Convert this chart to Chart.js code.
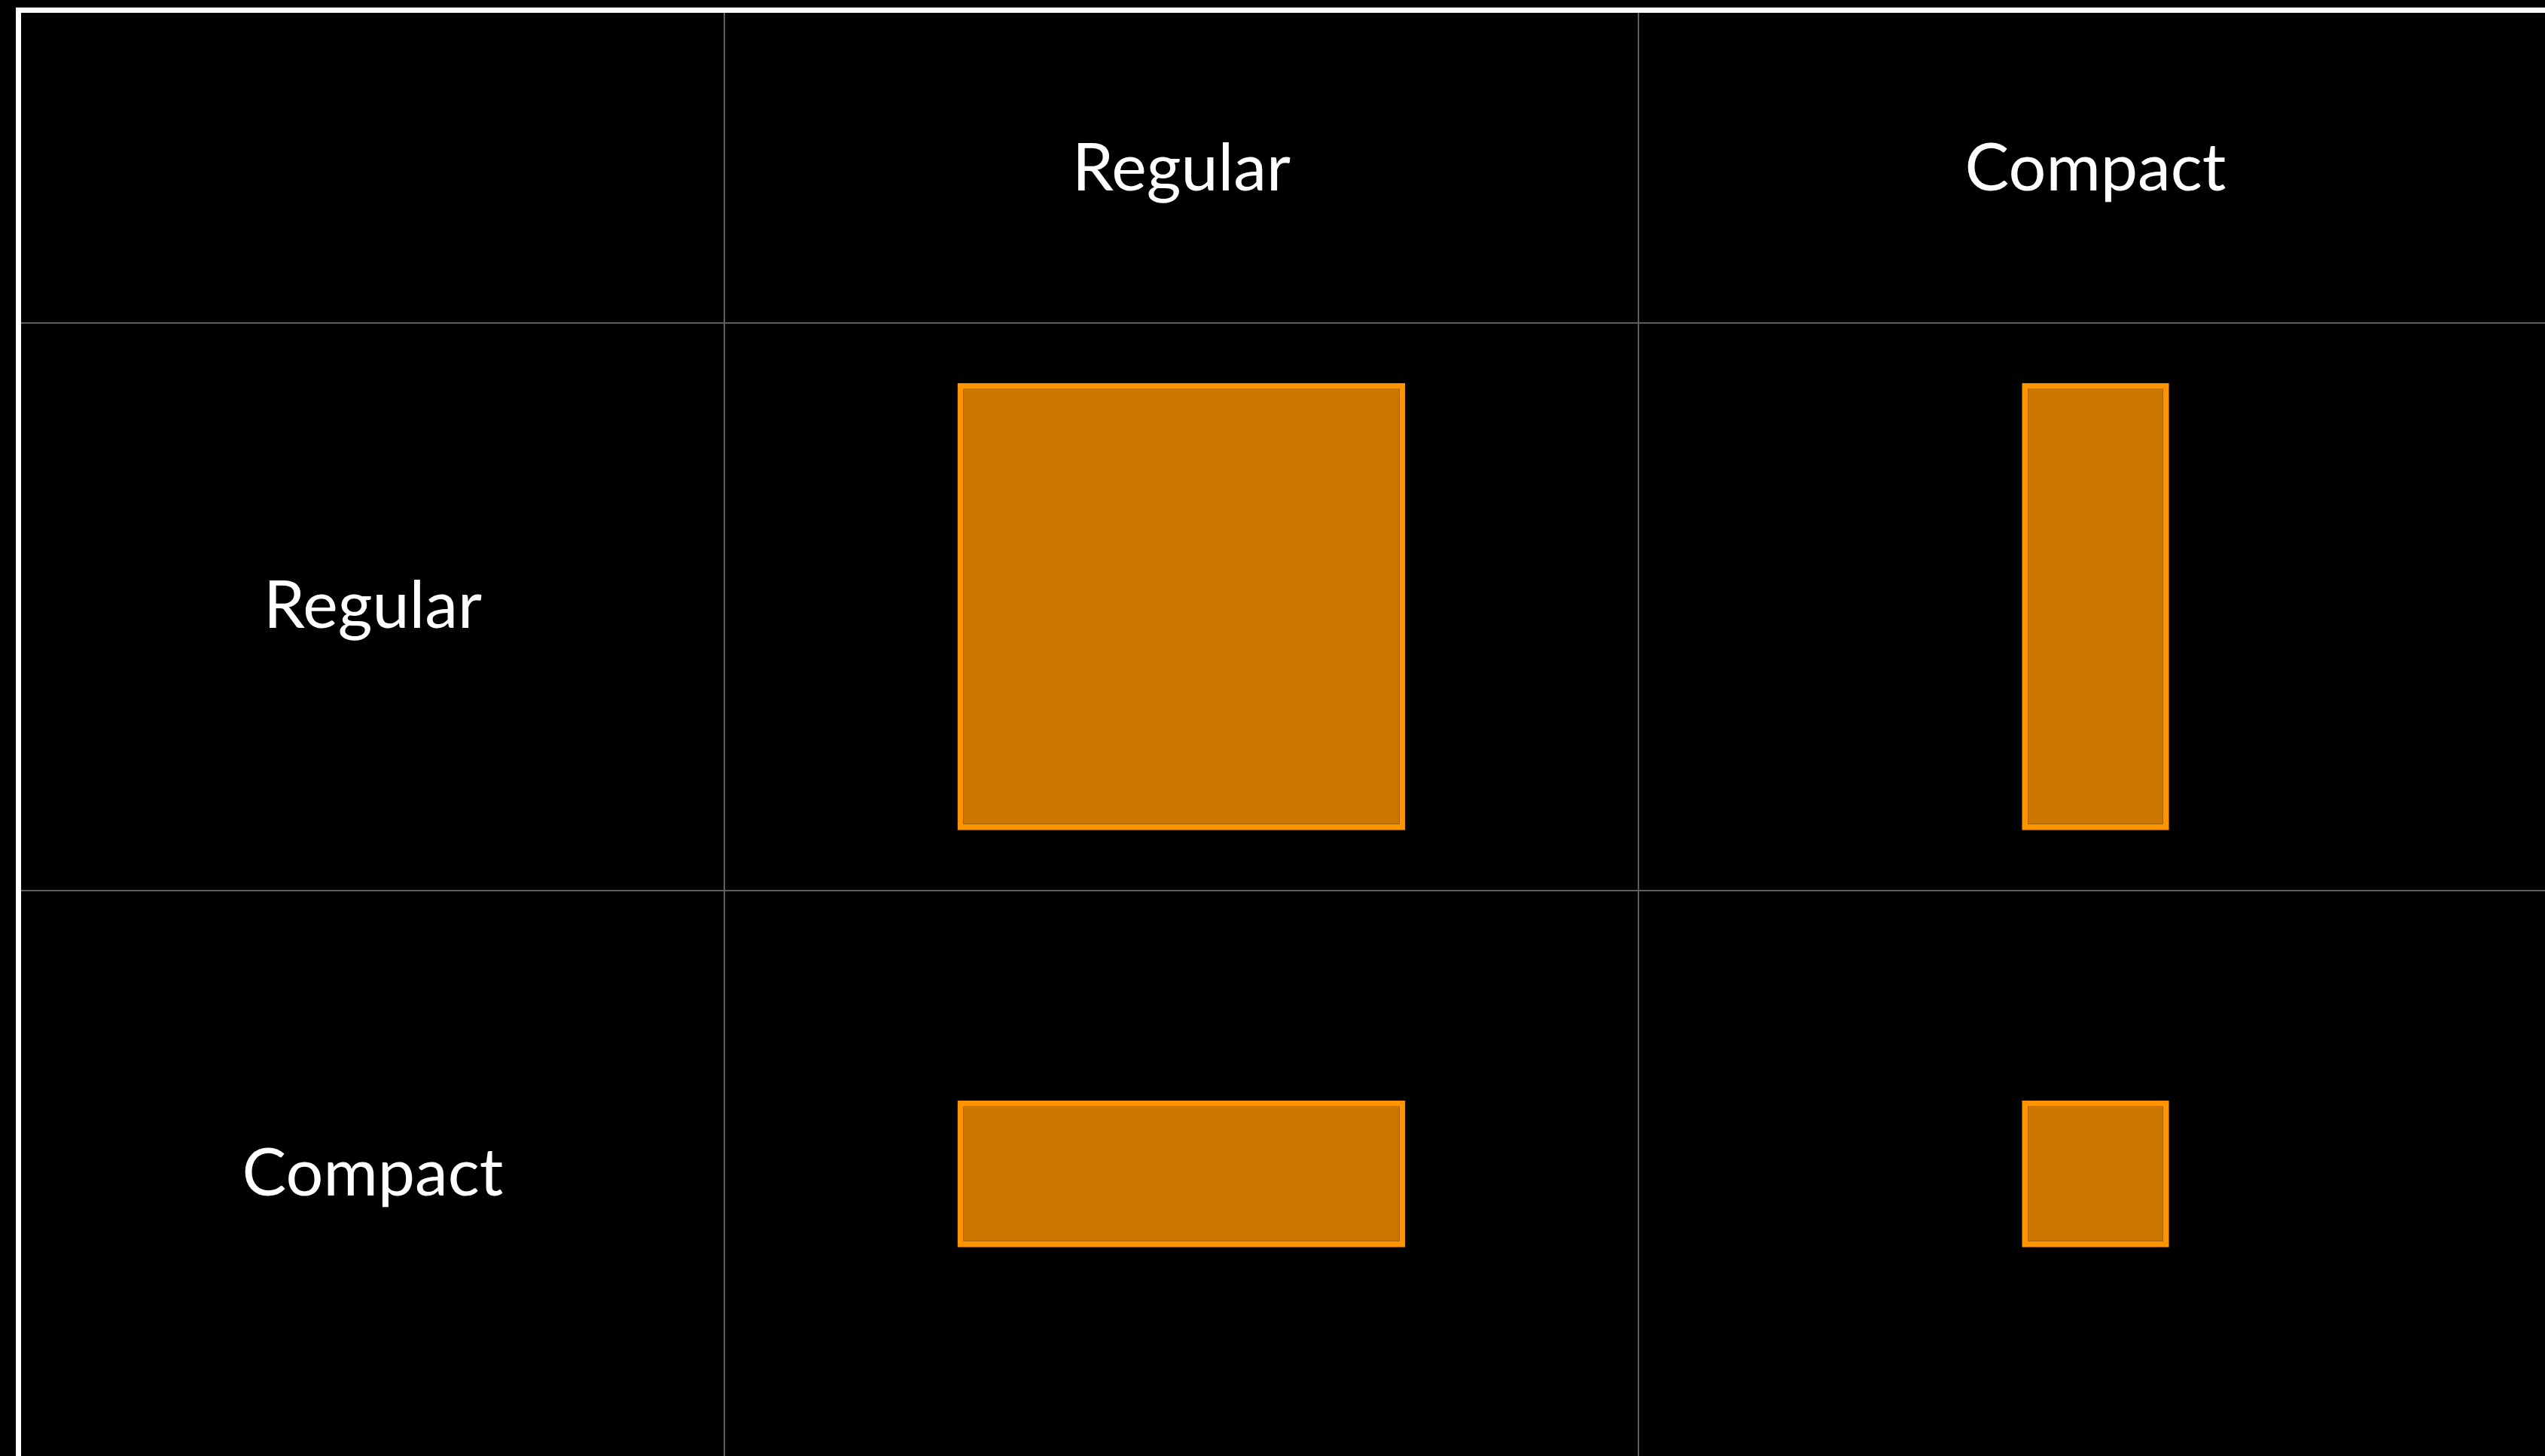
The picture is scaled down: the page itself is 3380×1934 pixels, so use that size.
<!DOCTYPE html>
<html>
<head>
<meta charset="utf-8">
<title>Size classes</title>
<script src="https://cdn.jsdelivr.net/npm/chart.js@4.4.1/dist/chart.umd.min.js"></script>
<style>
  html, body { margin: 0; padding: 0; background: #000; overflow: hidden; }
  #frame {
    position: absolute;
    left: 21px;
    top: 10px;
    border-left: 7px solid #fff;
    border-top: 7px solid #fff;
  }
  #sizeChart { display: block; }
</style>
</head>
<body>
<div id="frame">
  <canvas id="sizeChart" width="3362" height="1919"></canvas>
</div>
<script>
// Size classes: horizontal (columns) x vertical (rows)
const cols = ["Regular", "Compact"];
const rows = ["Regular", "Compact"];

// share of the cell taken by the box
const widthShare = [0.49, 0.161];
const heightShare = [0.788, 0.259];

const labelColW = 934;
const headerH = 412;
const gridColor = "#5e5e5e";
const font = { family: "Lato", size: 88, lineHeight: 1 };

// widest row label, to center the row labels in the first column
const probe = document.createElement("canvas").getContext("2d");
probe.font = "88px Lato";
const widest = Math.max(...rows.map((t) => probe.measureText(t).width));

// one floating bar per cell
const datasets = [];
rows.forEach((row, r) => {
  cols.forEach((col, c) => {
    const mid = r + 0.5;
    datasets.push({
      label: col + " / " + row,
      data: [{ x: col, y: [mid - heightShare[r] / 2, mid + heightShare[r] / 2] }],
      grouped: false,
      categoryPercentage: 1,
      barPercentage: widthShare[c],
      backgroundColor: "#cc7700",
      borderColor: "#ff9400",
      borderWidth: 8,
      borderSkipped: false,
    });
  });
});

new Chart(document.getElementById("sizeChart"), {
  type: "bar",
  data: { labels: cols, datasets },
  options: {
    responsive: false,
    animation: false,
    layout: { padding: 0 },
    plugins: { legend: { display: false }, tooltip: { enabled: false } },
    scales: {
      x: {
        type: "category",
        position: "top",
        offset: true,
        grid: { offset: true, color: gridColor, lineWidth: 2, tickLength: headerH },
        border: { display: false },
        ticks: { color: "#fff", font, padding: -252, autoSkip: false, maxRotation: 0 },
        afterFit: (s) => { s.height = headerH; },
      },
      y: {
        type: "linear",
        position: "left",
        reverse: true,
        min: 0,
        max: rows.length,
        afterBuildTicks: (s) => { s.ticks = rows.map((_, i) => ({ value: i + 0.5 })); },
        grid: { offset: true, color: gridColor, lineWidth: 2, tickLength: labelColW },
        border: { display: false },
        ticks: {
          color: "#fff",
          font,
          crossAlign: "center",
          padding: -(labelColW / 2 + widest / 2),
          autoSkip: false,
          callback: (v, i) => rows[i],
        },
        afterFit: (s) => { s.width = labelColW; },
      },
    },
  },
});
</script>
</body>
</html>
